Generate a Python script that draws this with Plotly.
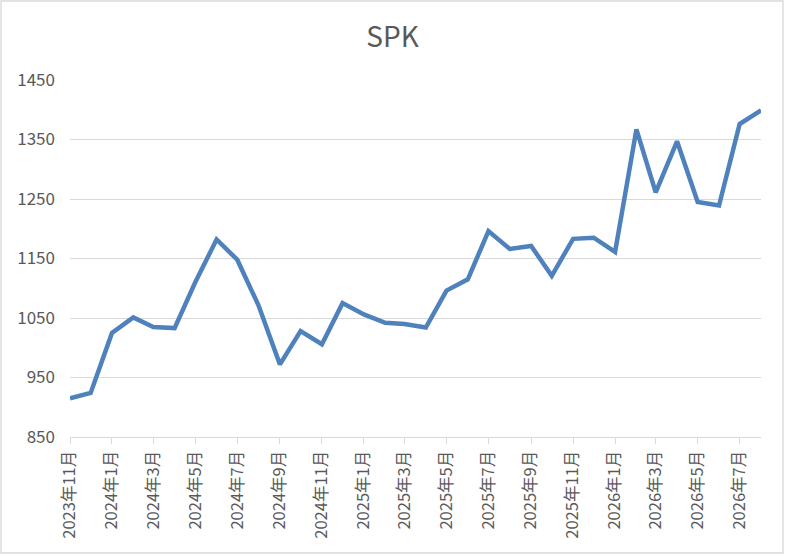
"""Plot the SPK monthly line chart."""

import plotly.graph_objects

months = [
    "2023-11-01", "2023-12-01",
    "2024-01-01", "2024-02-01", "2024-03-01", "2024-04-01", "2024-05-01", "2024-06-01",
    "2024-07-01", "2024-08-01", "2024-09-01", "2024-10-01", "2024-11-01", "2024-12-01",
    "2025-01-01", "2025-02-01", "2025-03-01", "2025-04-01", "2025-05-01", "2025-06-01",
    "2025-07-01", "2025-08-01", "2025-09-01", "2025-10-01", "2025-11-01", "2025-12-01",
    "2026-01-01", "2026-02-01", "2026-03-01", "2026-04-01", "2026-05-01", "2026-06-01",
    "2026-07-01", "2026-08-01",
]
spk = [
    915, 924,
    1025, 1051, 1035, 1033, 1110, 1182,
    1148, 1071, 972, 1028, 1006, 1075,
    1056, 1042, 1040, 1034, 1096, 1115,
    1196, 1166, 1171, 1121, 1183, 1185,
    1161, 1367, 1261, 1347, 1245, 1239,
    1376, 1399,
]
y_ticks = [850, 950, 1050, 1150, 1250, 1350, 1450]

WIDTH, HEIGHT = 785, 556
MARGIN = {"l": 70, "r": 24, "t": 80, "b": 119}
FONT = "Noto Sans CJK JP"
GREY_TEXT = "#595959"
GREY_LINE = "#d9d9d9"


def plot_spk() -> None:
    """Plot the SPK line."""
    figure = plotly.graph_objects.Figure()
    figure.add_scatter(
        x=months,
        y=spk,
        mode="lines",
        line={"color": "#4F81BD", "width": 4.5},
        name="SPK",
        showlegend=False,
    )

    # chart area border, in paper units of the plot area
    plot_w = WIDTH - MARGIN["l"] - MARGIN["r"]
    plot_h = HEIGHT - MARGIN["t"] - MARGIN["b"]
    figure.add_shape(
        type="rect",
        xref="paper",
        yref="paper",
        x0=(1 - MARGIN["l"]) / plot_w,
        x1=(WIDTH - 2 - MARGIN["l"]) / plot_w,
        y0=-(MARGIN["b"] - 3) / plot_h,
        y1=(HEIGHT - MARGIN["b"] - 1) / plot_h,
        line={"color": GREY_LINE, "width": 1.3},
        layer="below",
    )

    figure.update_layout(
        width=WIDTH,
        height=HEIGHT,
        margin=MARGIN,
        paper_bgcolor="white",
        plot_bgcolor="white",
        font={"family": FONT, "color": GREY_TEXT, "size": 16},
        title={
            "text": "SPK",
            "x": 0.5,
            "xanchor": "center",
            "y": 1 - 37 / HEIGHT,
            "yanchor": "middle",
            "font": {"size": 28, "color": GREY_TEXT, "family": FONT},
        },
        xaxis={
            "type": "date",
            "range": [months[0], months[-1]],
            "tick0": months[0],
            "dtick": "M2",
            "tickformat": "%Y年%-m月",
            "tickangle": -90,
            "ticks": "outside",
            "ticklen": 6,
            "tickcolor": GREY_LINE,
            "tickwidth": 1.3,
            "showgrid": False,
            "showline": True,
            "linecolor": GREY_LINE,
            "linewidth": 1.3,
            "zeroline": False,
            "tickfont": {"size": 16.5, "color": GREY_TEXT},
        },
        yaxis={
            "range": [y_ticks[0], y_ticks[-1]],
            "tickvals": y_ticks,
            "showgrid": True,
            "gridcolor": GREY_LINE,
            "gridwidth": 1.3,
            "zeroline": False,
            "showline": False,
            "ticks": "",
            "ticklabelstandoff": 14,
            "tickfont": {"size": 17, "color": GREY_TEXT},
        },
    )

    # the page body has a default 8px margin; drop it so the chart fills the window
    figure.write_html(
        "out.html",
        config={"displayModeBar": False},
        post_script="document.body.style.margin = '0px';",
    )


if __name__ == "__main__":
    plot_spk()
